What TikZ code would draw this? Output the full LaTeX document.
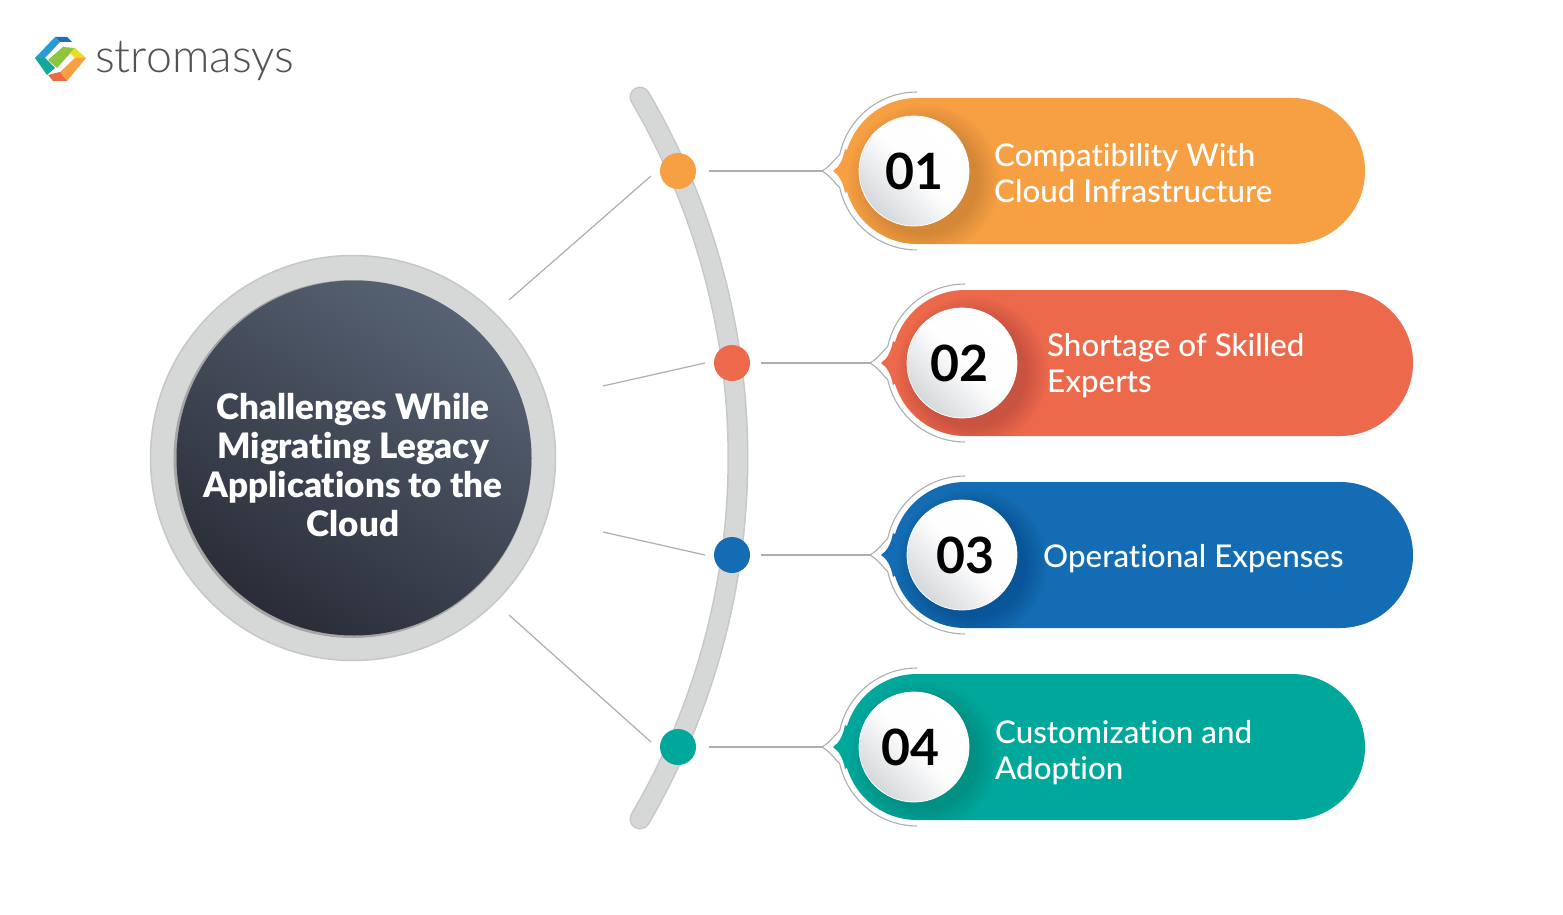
\documentclass[tikz,border=0pt]{standalone}
\usepackage{fontspec}
\setmainfont{Lato Medium}[Ligatures=NoCommon,BoldFont=Lato Bold]
\newfontfamily\logofont{Lato Light}[Ligatures=NoCommon]
\newfontfamily\hubfont{Lato Black}[Ligatures=NoCommon]
\usetikzlibrary{shapes.misc}
\definecolor{corange}{HTML}{F79F43}
\definecolor{cred}{HTML}{EC694C}
\definecolor{cblue}{HTML}{146DB4}
\definecolor{cteal}{HTML}{00A89C}
\definecolor{cgrey}{HTML}{D6D7D7}
\definecolor{crim}{HTML}{C6C7C7}
\definecolor{cline}{HTML}{ABAFB3}
\definecolor{BallDark}{HTML}{D5D8DA}
\definecolor{DiscDark}{HTML}{2A2D38}
\definecolor{DiscLight}{HTML}{566273}
\definecolor{lgBlueD}{HTML}{1F6FB5}
\definecolor{lgBlue}{HTML}{2A9AD6}
\definecolor{lgTeal}{HTML}{12A79B}
\definecolor{lgGreen}{HTML}{8CC63F}
\definecolor{lgYellow}{HTML}{E6DE1E}
\definecolor{lgOrange}{HTML}{F79F43}
\definecolor{lgRed}{HTML}{EC6A43}
\tikzset{
  pillbox/.style={rounded rectangle,minimum width=521pt,minimum height=146pt,inner sep=0pt,draw=none},
  ball/.style={circle,minimum size=110pt,inner sep=0pt,draw=white,line width=.8pt,shading=axis,top color=BallDark,bottom color=white,middle color=white!96!BallDark,shading angle=135},
  dotnode/.style={circle,minimum size=36pt,inner sep=0pt,draw=none},
  numtext/.style={font=\fontsize{50}{50}\selectfont\bfseries,text=black,inner sep=0pt},
  pilltext/.style={font=\fontsize{31.3}{36}\selectfont,text=white,align=left,inner sep=0pt,anchor=west},
  spoke/.style={draw=cline,line width=1.2pt},
  hook/.style={draw=cline,line width=1.1pt},
  centertext/.style={font=\fontsize{35}{39}\selectfont\hubfont,text=white,align=center,inner sep=0pt}
}
% #1 name suffix, #2 ball centre x, #3 y, #4 colour, #5 number, #6 text x, #7 text, #8 number x, #9 text y
\newcommand{\challenge}[9]{%
  \pgfmathsetmacro{\cx}{#2+3}%
  \pgfmathsetmacro{\pillx}{#2+3-73+260.5}%
  \node[pillbox,fill=#4] (pill#1) at (\pillx,#3) {};
  \fill[#4] ({\cx-84},#3) .. controls ({\cx-78},{#3-4}) and ({\cx-74},{#3-11}) .. ({\cx-72},{#3-22})
     -- ({\cx-40},#3) -- ({\cx-72},{#3+22}) .. controls ({\cx-74},{#3+11}) and ({\cx-78},{#3+4}) .. cycle;
  \coordinate (tip#1) at ({\cx-95},#3);
  \draw[hook] (\cx,{#3-79}) arc (-90:-168:79) .. controls ({\cx-81},{#3-14}) and ({\cx-86},{#3-5}) .. (tip#1)
     .. controls ({\cx-86},{#3+5}) and ({\cx-81},{#3+14}) .. ({\cx-77.3},{#3+16.4}) arc (168:90:79);
  \begin{scope}
    \clip (\cx,{#3-73}) arc (-90:-270:73) -- ({\cx+300},{#3+73}) -- ({\cx+300},{#3-73}) -- cycle;
    \foreach \rr in {76,74,...,54}{
      \fill[black,opacity=.012] ({#2+10},{#3+9}) circle (\rr);
    }
  \end{scope}
  \node[ball] (ball#1) at (#2,#3) {};
  \node[numtext] (num#1) at (#8,#3) {#5};
  \node[pilltext] (text#1) at (#6,#9) {#7};
}
\begin{document}
\begin{tikzpicture}[x=1pt,y=1pt,yscale=-1]
\useasboundingbox (0,0) rectangle (1563,915);
\fill[white] (0,0) rectangle (1563,915);

% logo
\fill[lgBlueD] (55,37) -- (67,37) -- (72,42) -- (60,42) -- cycle;
\fill[lgBlue] (35,58) -- (55,37) -- (60,42) -- (45,58) -- cycle;
\fill[lgTeal] (35,58) -- (45,58) -- (55,68) -- (47,75) -- cycle;
\fill[lgGreen] (48,60) -- (63,47) -- (75,48) -- (57,68) -- cycle;
\fill[lgYellow] (75,48) -- (86,58) -- (75,58) -- (70,53) -- cycle;
\fill[lgOrange] (75,58) -- (86,58) -- (67,81) -- (60,72) -- cycle;
\fill[lgRed] (48,75) -- (60,72) -- (67,81) -- (53,81) -- cycle;
\node[anchor=base west,inner sep=0pt,text=black!68,font=\fontsize{46.5}{46.5}\selectfont\logofont] (logotext) at (95,73) {stromasys};

% central disc
\node[circle,minimum size=405pt,inner sep=0pt,fill=cgrey,draw=crim,line width=1.5pt] (hubring) at (353,458) {};
\fill[black!35] (352.5,459) circle (179);
\node[circle,minimum size=355pt,inner sep=0pt,shading=axis,top color=DiscLight,bottom color=DiscDark,shading angle=-32] (hub) at (354,458) {};
\node[centertext] (hubtext) at (353,465) {Challenges While\\Migrating Legacy\\Applications to the\\Cloud};

% main arc
\draw[crim,line width=21pt,line cap=round] (24,458) ++(-30.37:714) arc (-30.37:30.37:714);
\draw[cgrey,line width=18pt,line cap=round] (24,458) ++(-30.37:714) arc (-30.37:30.37:714);

% dots
\node[dotnode,fill=corange] (dot1) at (678,171) {};
\node[dotnode,fill=cred] (dot2) at (732,363) {};
\node[dotnode,fill=cblue] (dot3) at (732,555) {};
\node[dotnode,fill=cteal] (dot4) at (678,747) {};

% items
\challenge{1}{914}{171}{corange}{01}{994}{Compatibility With\\Cloud Infrastructure}{914}{173}
\challenge{2}{962}{363}{cred}{02}{1047}{Shortage of Skilled\\Experts}{959.5}{366}
\challenge{3}{962}{555}{cblue}{03}{1043}{Operational Expenses}{965.5}{559}
\challenge{4}{914}{747}{cteal}{04}{995}{Customization and\\Adoption}{910.5}{753}

% spokes
\coordinate (s1a) at (509,300); \coordinate (s1b) at (651,176);
\coordinate (s2a) at (603,386); \coordinate (s2b) at (705,363);
\coordinate (s3a) at (603,532); \coordinate (s3b) at (705,555);
\coordinate (s4a) at (509,615); \coordinate (s4b) at (651,742);
\draw[spoke] (s1a) -- (s1b);
\draw[spoke] (s2a) -- (s2b);
\draw[spoke] (s3a) -- (s3b);
\draw[spoke] (s4a) -- (s4b);
% horizontal connectors
\coordinate (h1) at (709,171); \coordinate (h2) at (761,363);
\coordinate (h3) at (761,555); \coordinate (h4) at (709,747);
\draw[hook] (h1) -- (tip1);
\draw[hook] (h2) -- (tip2);
\draw[hook] (h3) -- (tip3);
\draw[hook] (h4) -- (tip4);
\end{tikzpicture}
\end{document}
